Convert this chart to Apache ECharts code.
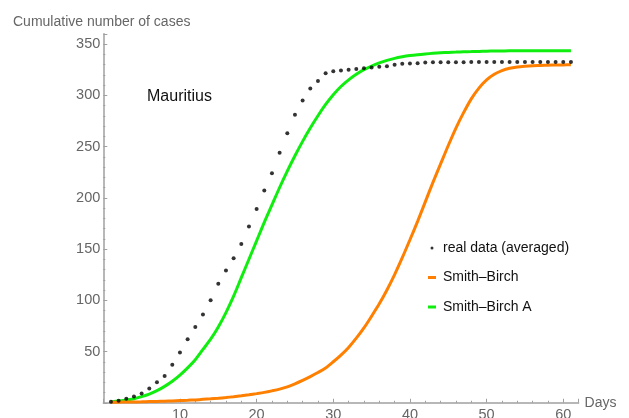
<!DOCTYPE html>
<html>
<head>
<meta charset="utf-8">
<script src="https://cdn.jsdelivr.net/npm/echarts@6/dist/echarts.min.js"></script>
<style>
html,body{margin:0;padding:0;background:#fff;}
#chart{width:629px;height:418px;}
</style>
</head>
<body>
<div id="chart"></div>
<script>
var days = [1,2,3,4,5,6,7,8,9,10,11,12,13,14,15,16,17,18,19,20,21,22,23,24,25,26,27,28,29,30,31,32,33,34,35,36,37,38,39,40,41,42,43,44,45,46,47,48,49,50,51,52,53,54,55,56,57,58,59,60,61];
var realData = [1,2,4,6,9,14,20,26,37,49,62,74,86,100,116,129,141,155,172,189,207,224,244,263,281,295,306.5,314,321.5,323.3,324.2,325,325.7,326.4,327,327.7,328.3,329.7,330.7,331,331.3,332,332.3,332.3,332.3,332.3,332.3,332.4,332.4,332.4,332.4,332.4,332.4,332.5,332.5,332.5,332.5,332.5,332.5,332.5,332.5];
var smithBirch = [0.5,0.6,0.7,0.8,0.9,1.1,1.3,1.5,1.8,2.1,2.4,2.8,3.3,3.8,4.4,5.1,5.9,6.8,7.8,8.9,10.1,11.6,13.3,15.5,18.5,21.8,25.5,29.5,34,40,46.5,54,63,73,84.5,96.5,110,125,141.5,159,177,196,215,233,251,268,283,296.5,307,315,320.5,324,326.3,327.5,328.2,328.7,329,329.3,329.5,329.6,329.7];
var smithBirchA = [0.8,1.6,2.7,3.9,6,8.5,11.8,16,21,27,34,42,52,62,74,88,104,122,140,158,176,193,210,226,241,255,268,280,291,300.5,308.5,315,320.5,325,328.5,331.5,334,336,337.5,338.7,339.6,340.3,340.9,341.4,341.8,342.1,342.4,342.6,342.8,343,343.1,343.2,343.3,343.3,343.4,343.4,343.4,343.5,343.5,343.5,343.5];
var xTicks = [10,20,30,40,50,60];
var yTicks = [50,100,150,200,250,300,350];

function pairs(xs, ys){ return xs.map(function(x,i){ return [x, ys[i]]; }); }

var sans = '"Liberation Sans", Arial, sans-serif';
var chart = echarts.init(document.getElementById('chart'), null, {renderer:'canvas'});
chart.setOption({
  animation:false,
  backgroundColor:'#fff',
  title:[
    {text:'Cumulative number of cases', left:13, top:15, padding:0,
     textStyle:{fontFamily:sans, fontSize:14, fontWeight:'normal', color:'#666'}},
    {text:'Mauritius', left:147, top:89, padding:0,
     textStyle:{fontFamily:sans, fontSize:16, fontWeight:'normal', color:'#111'}}
  ],
  grid:{left:103.3, top:33.75, width:475.3, height:369, containLabel:false, outerBoundsMode:'none'},
  legend:{
    orient:'vertical', left:428, top:239, padding:0, itemGap:11.5,
    itemWidth:8, itemHeight:3,
    textStyle:{fontFamily:sans, fontSize:14, color:'#111', lineHeight:18, padding:[0,0,0,2]},
    data:[
      {name:'real data (averaged)', icon:'circle'},
      {name:'Smith–Birch', icon:'rect'},
      {name:'Smith–Birch A', icon:'rect'}
    ]
  },
  xAxis:{
    type:'value', min:0, max:62, interval:10,
    name:'Days', nameLocation:'end', nameGap:6,
    nameTextStyle:{fontFamily:sans, fontSize:14, color:'#666', padding:[2,0,0,0]},
    axisLine:{show:true, onZero:false, lineStyle:{color:'#a0a0a0', width:1.5}},
    axisTick:{show:true, inside:true, length:4, lineStyle:{color:'#a0a0a0'}},
    minorTick:{show:true, splitNumber:5, length:2, lineStyle:{color:'#a0a0a0'}},
    splitLine:{show:false},
    axisLabel:{margin:5, fontFamily:sans, fontSize:14.5, color:'#666',
      formatter:function(v){ return xTicks.indexOf(v) >= 0 ? String(v) : ''; }}
  },
  yAxis:{
    type:'value', min:0, max:360, interval:50,
    axisLine:{show:true, onZero:false, lineStyle:{color:'#a0a0a0', width:1.5}},
    axisTick:{show:true, inside:true, length:4, lineStyle:{color:'#a0a0a0'}},
    minorTick:{show:true, splitNumber:5, length:2, lineStyle:{color:'#a0a0a0'}},
    splitLine:{show:false},
    axisLabel:{margin:3, fontFamily:sans, fontSize:14.5, color:'#666',
      formatter:function(v){ return yTicks.indexOf(v) >= 0 ? String(v) : ''; }}
  },
  series:[
    {name:'Smith–Birch A', type:'line', data:pairs(days, smithBirchA), smooth:0.3,
     showSymbol:false, symbol:'none', color:'#10ee10', lineStyle:{width:3, color:'#10ee10'}, z:2},
    {name:'Smith–Birch', type:'line', data:pairs(days, smithBirch), smooth:0.3,
     showSymbol:false, symbol:'none', color:'#ff8000', lineStyle:{width:3, color:'#ff8000'}, z:2},
    {name:'real data (averaged)', type:'scatter', data:pairs(days, realData),
     symbol:'circle', symbolSize:4, itemStyle:{color:'#000'}, color:'#000', z:3}
  ]
});
</script>
</body>
</html>
